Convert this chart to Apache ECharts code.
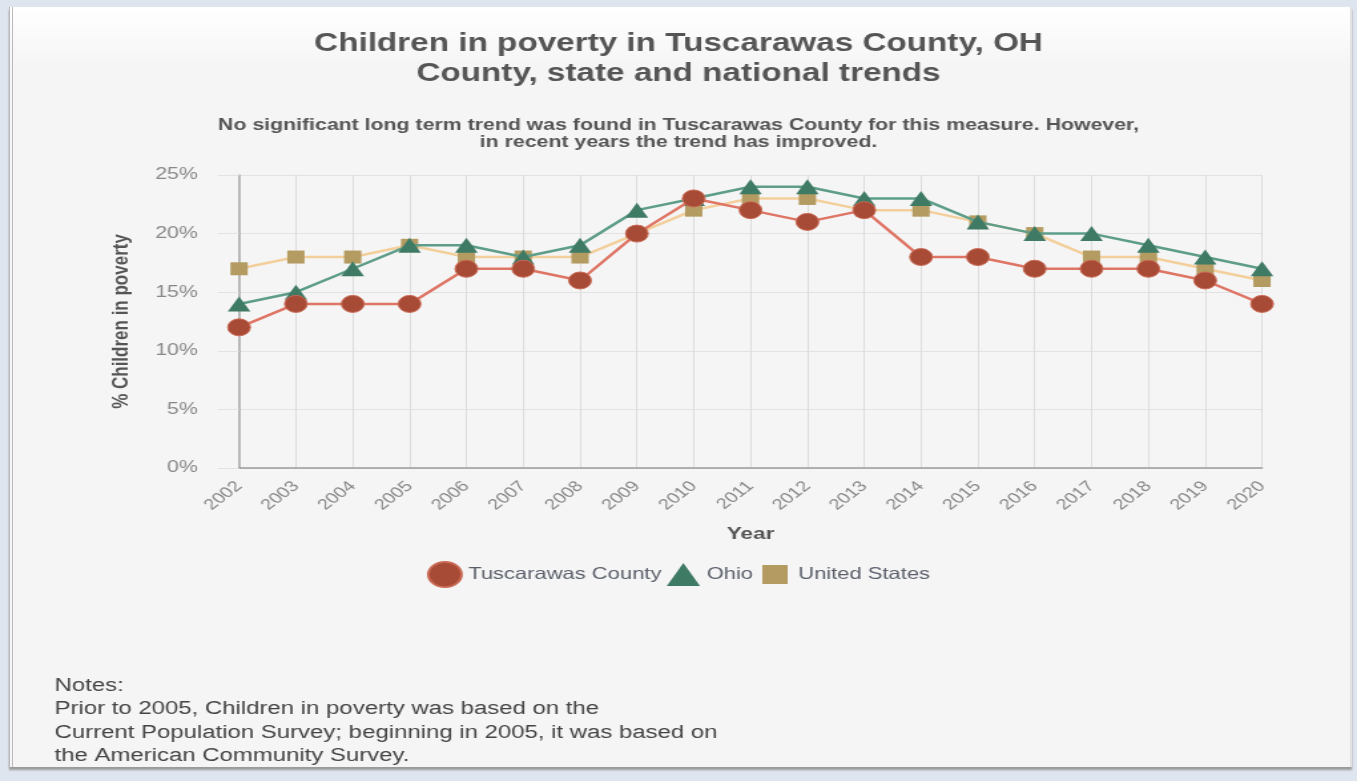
<!DOCTYPE html>
<html>
<head>
<meta charset="utf-8">
<script src="https://cdn.jsdelivr.net/npm/echarts@6/dist/echarts.min.js"></script>
<style>
  html, body { margin: 0; padding: 0; width: 1357px; height: 781px; overflow: hidden; background: #dfe5ef; }
  #card {
    position: absolute; left: 9px; top: 7px; width: 1337px; height: 760px;
    background: linear-gradient(#ffffff 0px, #f5f5f5 60px, #f5f5f5 100%);
    border-left: 4px double #b9b9b9;
    border-right: 2px solid #e2e2e2;
    box-shadow: 0 3px 2px #9a9a9a;
  }
  /* the chart is laid out on a narrower canvas and widened to the panel width */
  #chart {
    position: absolute; left: 0; top: 0; width: 1020px; height: 781px;
    transform: scaleX(1.3304); transform-origin: 0 0;
  }
</style>
</head>
<body>
<div id="card"></div>
<div id="chart"></div>
<script>
// Share of children living in poverty, by year (%)
const years = ['2002','2003','2004','2005','2006','2007','2008','2009','2010','2011',
               '2012','2013','2014','2015','2016','2017','2018','2019','2020'];
const tuscarawas = [12, 14, 14, 14, 17, 17, 16, 20, 23, 22, 21, 22, 18, 18, 17, 17, 17, 16, 14];
const ohio       = [14, 15, 17, 19, 19, 18, 19, 22, 23, 24, 24, 23, 23, 21, 20, 20, 19, 18, 17];
const usa        = [17, 18, 18, 19, 18, 18, 18, 20, 22, 23, 23, 22, 22, 21, 20, 18, 18, 17, 16];
const yTicks     = [0, 5, 10, 15, 20, 25];

const FONT = '"Liberation Sans", Arial, sans-serif';
const chart = echarts.init(document.getElementById('chart'));

chart.setOption({
  animation: false,
  textStyle: { fontFamily: FONT },
  title: [
    {
      text: 'Children in poverty in Tuscarawas County, OH\nCounty, state and national trends',
      left: 'center', top: 29, padding: 0,
      textStyle: { fontSize: 25, fontWeight: 'bold', color: '#555', lineHeight: 30, fontFamily: FONT }
    },
    {
      text: 'No significant long term trend was found in Tuscarawas County for this measure. However,\nin recent years the trend has improved.',
      left: 'center', top: 117, padding: 0,
      textStyle: { fontSize: 16, fontWeight: 'bold', color: '#555', lineHeight: 17, fontFamily: FONT }
    },
    {
      text: 'Notes:\nPrior to 2005, Children in poverty was based on the\nCurrent Population Survey; beginning in 2005, it was based on\nthe American Community Survey.',
      left: 41, top: 674, padding: 0,
      textStyle: { fontSize: 18, fontWeight: 'normal', color: '#444', lineHeight: 23.5, fontFamily: FONT }
    }
  ],
  legend: {
    top: 556, left: 'center',
    itemGap: 4, itemWidth: 25, itemHeight: 25,
    symbolKeepAspect: true,
    textStyle: { fontSize: 16.5, color: '#5a5f6a', fontFamily: FONT },
    data: [
      { name: 'Tuscarawas County', icon: 'circle' },
      { name: 'Ohio', icon: 'path://M12,0 L24,22 L0,22 Z' },
      { name: 'United States', icon: 'path://M0,0 M25,25 M3,3 L22,3 L22,22 L3,22 Z' }
    ]
  },
  grid: { left: 179.7, right: 71.4, top: 175, bottom: 313 },
  xAxis: {
    type: 'category', data: years, boundaryGap: false,
    name: 'Year', nameLocation: 'middle', nameGap: 58,
    nameTextStyle: { fontSize: 17, fontWeight: 'bold', color: '#555' },
    axisLine: { lineStyle: { color: '#9a9a9a', width: 1.5 } },
    axisTick: { show: false },
    axisLabel: { rotate: 45, fontSize: 15, color: '#888', margin: 16, interval: 0 },
    splitLine: { show: true, lineStyle: { color: '#dcdcdc' } }
  },
  yAxis: {
    type: 'value', min: 0, max: 25, interval: 5,
    name: '% Children in poverty', nameLocation: 'middle', nameGap: 80,
    nameTextStyle: { fontSize: 17, fontWeight: 'bold', color: '#555' },
    axisLine: { show: true, lineStyle: { color: '#a8a8a8', width: 1.5 } },
    axisTick: { show: true, length: 16, lineStyle: { color: '#e2e2e2' } },
    axisLabel: { formatter: v => yTicks.includes(v) ? v + '%' : '', fontSize: 16, color: '#888', margin: 31 },
    splitLine: { lineStyle: { color: '#e2e2e2' } }
  },
  series: [
    {
      name: 'Ohio', type: 'line', data: ohio, z: 3,
      symbol: 'triangle', symbolSize: [17, 15],
      itemStyle: { color: '#3f7a64' },
      lineStyle: { color: '#5e9d8a', width: 2.5 }
    },
    {
      name: 'United States', type: 'line', data: usa, z: 2,
      symbol: 'rect', symbolSize: 13,
      itemStyle: { color: '#b39b62' },
      lineStyle: { color: '#f3cf9c', width: 2.5 }
    },
    {
      name: 'Tuscarawas County', type: 'line', data: tuscarawas, z: 4,
      symbol: 'circle', symbolSize: 17,
      itemStyle: { color: '#a84b36', borderColor: '#c96a55', borderWidth: 1 },
      lineStyle: { color: '#de7565', width: 2.5 }
    }
  ]
});
</script>
</body>
</html>
